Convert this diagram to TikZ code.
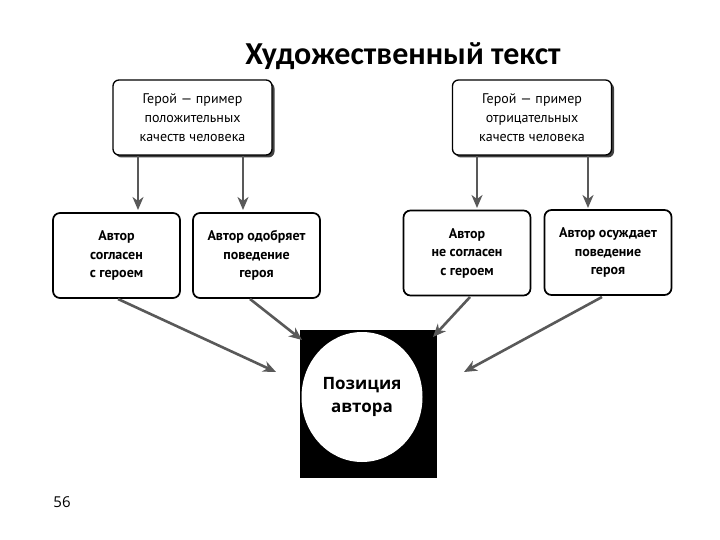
\documentclass[tikz,border=0pt]{standalone}
\usepackage{fontspec}
\setmainfont{Open Sans}
\newfontfamily\boxfont{PT Sans}
\newfontfamily\titlefont{Carlito}
\usetikzlibrary{arrows.meta,shadows,shapes.geometric}
\begin{document}
\begin{tikzpicture}[x=1pt,y=-1pt,
  topbox/.style={draw=black,line width=1.3pt,rounded corners=6pt,fill=white,
    minimum width=159pt,minimum height=75pt,align=center,font=\boxfont\fontsize{14}{19}\selectfont,
    drop shadow={shadow xshift=2.5pt,shadow yshift=-2.5pt,fill=black!75,opacity=1}},
  midbox/.style={draw=black,line width=1.7pt,rounded corners=7pt,fill=white,
    minimum width=127pt,minimum height=85pt,align=center,font=\boxfont\bfseries\fontsize{14}{18.5}\selectfont},
  arr/.style={line width=2.6pt,draw=black!65,-{Stealth[length=13pt,width=11pt,inset=4pt]}}
]
\useasboundingbox (0,0) rectangle (720,540);
\node[font=\titlefont\bfseries\fontsize{32}{36}\selectfont] (title) at (403,56) {Художественный текст};

\node[topbox] (tl) at (192.5,117.5) {Герой — пример\\положительных\\качеств человека};
\node[topbox] (tr) at (532,117.5) {Герой — пример\\отрицательных\\качеств человека};

\node[midbox] (a) at (116.5,255.5) {Автор\\согласен\\с героем};
\node[midbox] (b) at (256.5,255.5) {Автор одобряет\\поведение\\героя};
\node[midbox] (c) at (467,253) {Автор\\не согласен\\с героем};
\node[midbox] (d) at (608,252.5) {Автор осуждает\\поведение\\героя};

\node[fill=black,minimum width=137pt,minimum height=148pt,inner sep=0pt] (sq) at (368.5,404) {};
\node[fill=white,ellipse,minimum width=121pt,minimum height=130pt,inner sep=0pt,align=center,
  font=\bfseries\fontsize{17}{23}\selectfont] (pos) at (362,397) {Позиция\\автора};

\coordinate (t1) at (138,210);
\coordinate (t2) at (243,210);
\coordinate (t3) at (477,208);
\coordinate (t4) at (588,208);
\draw[arr] (tl.south -| t1) -- (t1);
\draw[arr] (tl.south -| t2) -- (t2);
\draw[arr] (tr.south -| t3) -- (t3);
\draw[arr] (tr.south -| t4) -- (t4);

\coordinate (p1) at (276,372);
\coordinate (p2) at (302,340);
\coordinate (p3) at (433,337);
\coordinate (p4) at (464,372);
\draw[arr] (118,299) -- (p1);
\draw[arr] (250,299) -- (p2);
\draw[arr] (470,297) -- (p3);
\draw[arr] (602,297) -- (p4);

\node[font=\fontsize{15}{18}\selectfont] (pg) at (62,502) {56};
\end{tikzpicture}
\end{document}
